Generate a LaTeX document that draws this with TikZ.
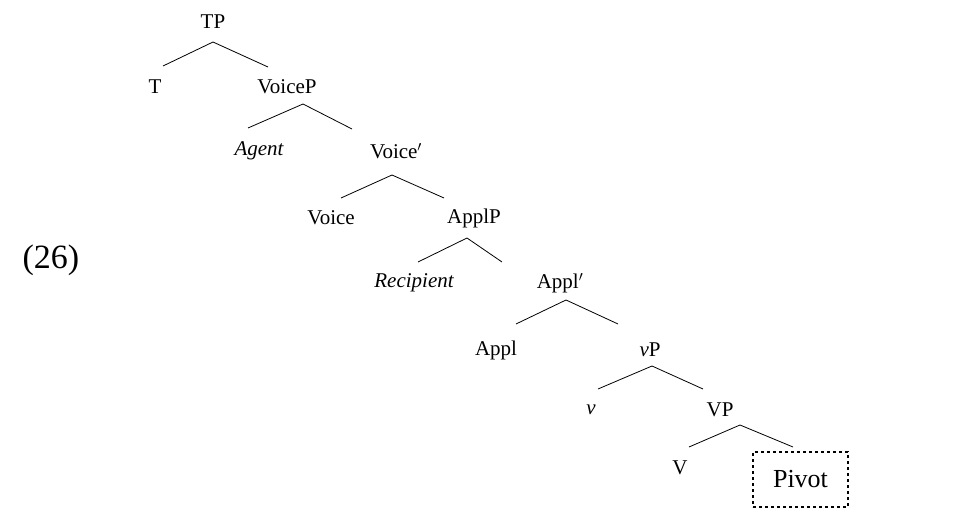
\documentclass[tikz,border=0pt]{standalone}
\usepackage{fontspec}
\setmainfont{Liberation Serif}
\begin{document}
\begin{tikzpicture}[x=1pt,y=-1pt,
  lab/.style={inner sep=0pt,font=\fontsize{21}{24}\selectfont},
  br/.style={line width=0.8pt}]
\useasboundingbox (0,0) rectangle (955,526);
\node[inner sep=0pt,font=\fontsize{34}{38}\selectfont] (ex) at (51,260) {(26)};
\node[lab] (TP) at (213,22) {TP};
\node[lab] (T) at (155,87) {T};
\node[lab] (VoiceP) at (287,87) {VoiceP};
\node[lab] (Agent) at (259,151) {\itshape Agent};
\node[lab] (Voicebar) at (396,151) {Voice$'$};
\node[lab] (Voice) at (331,218) {Voice};
\node[lab] (ApplP) at (474,218) {ApplP};
\node[lab] (Recip) at (414,283) {\itshape Recipient};
\node[lab] (Applbar) at (560,283) {Appl$'$};
\node[lab] (Appl) at (496,350) {Appl};
\node[lab] (vP) at (650,350) {\itshape v\upshape P};
\node[lab] (v) at (591,410) {\itshape v};
\node[lab] (VP) at (720,410) {VP};
\node[lab] (V) at (680,468) {V};
\node[draw,dashed,line width=1.6pt,minimum width=95pt,minimum height=55pt,inner sep=0pt,font=\fontsize{26}{30}\selectfont] (Pivot) at (800.5,479.5) {Pivot};
\foreach \a/\ax/\ay/\lx/\ly/\rx/\ry in {TP/213/42/163/66/268/67, VoiceP/303/104/248/128/352/129, Voicebar/392/175/341/198/444/198, ApplP/467/238/418/262/502/262, Applbar/566/300/516/324/618/324, vP/652/366/598/389/703/389, VP/740/425/689/447/793/447}{
  \coordinate (\a-top) at (\ax,\ay);
  \coordinate (\a-l) at (\lx,\ly);
  \coordinate (\a-r) at (\rx,\ry);
  \draw[br] (\a-l) -- (\a-top) -- (\a-r);
}
\end{tikzpicture}
\end{document}
